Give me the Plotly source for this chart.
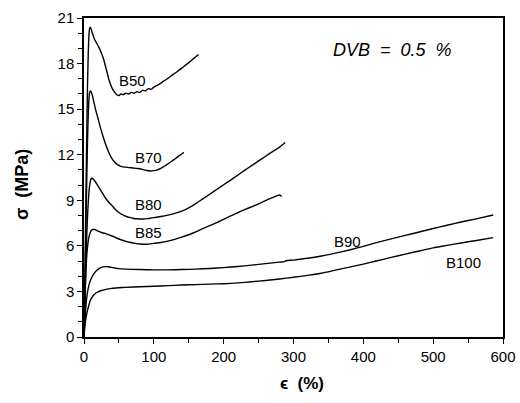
import plotly.graph_objects as go

# Stress-strain curves, strain in %, stress in MPa
b50_x = [0, 1, 2, 3, 4, 5, 6, 7, 8, 9, 10, 12, 15, 18, 21, 24, 28, 32, 36, 40, 44, 47,
         50, 53, 56, 60, 64, 68, 72, 76, 80, 84, 88, 92, 96, 100, 104, 108, 112, 116,
         120, 125, 130, 135, 140, 145, 150, 155, 160, 164]
b50_y = [0, 3, 6.5, 10, 13.5, 16.5, 18.5, 19.8, 20.3, 20.4, 20.3, 20.0, 19.6, 19.35,
         19.1, 18.8, 18.3, 17.6, 16.9, 16.4, 16.1, 15.95, 15.9, 16.0, 15.95, 16.05, 16.0,
         16.1, 16.05, 16.15, 16.1, 16.25, 16.2, 16.35, 16.3, 16.45, 16.55, 16.65, 16.78,
         16.9, 17.03, 17.2, 17.36, 17.53, 17.7, 17.88, 18.06, 18.25, 18.45, 18.6]

b70_x = [0, 1, 2, 3, 4, 5, 6, 7, 8, 9, 10, 12, 14, 17, 20, 24, 28, 32, 36, 40, 44, 48,
         52, 56, 60, 65, 70, 75, 80, 85, 90, 95, 100, 105, 110, 115, 120, 125, 130, 135,
         140, 143]
b70_y = [0, 2.5, 5, 8, 10.5, 12.8, 14.5, 15.6, 16.1, 16.2, 16.15, 15.9, 15.5, 14.9,
         14.4, 13.7, 13.1, 12.55, 12.1, 11.75, 11.5, 11.35, 11.25, 11.2, 11.18, 11.15,
         11.13, 11.1, 11.08, 11.02, 10.96, 10.93, 10.95, 11.0, 11.1, 11.24, 11.39, 11.55,
         11.72, 11.89, 12.05, 12.15]

b80_x = [0, 1, 2, 3, 4, 5, 6, 7, 8, 9, 10, 11, 12, 13, 15, 18, 22, 26, 30, 35, 40, 45,
         50, 55, 60, 65, 70, 75, 80, 85, 90, 95, 100, 110, 120, 130, 140, 150, 160, 170,
         180, 190, 200, 210, 220, 230, 240, 250, 260, 270, 280, 288]
b80_y = [0, 1.8, 3.6, 5.3, 6.7, 7.9, 8.8, 9.5, 9.95, 10.25, 10.4, 10.45, 10.45, 10.4,
         10.3, 10.1, 9.8, 9.5, 9.2, 8.9, 8.65, 8.4, 8.2, 8.05, 7.95, 7.87, 7.82, 7.78,
         7.77, 7.77, 7.79, 7.82, 7.86, 7.93, 8.02, 8.14, 8.29, 8.5, 8.78, 9.09, 9.4,
         9.71, 10.02, 10.33, 10.65, 10.97, 11.28, 11.59, 11.9, 12.2, 12.5, 12.8]

b85_x = [0, 1, 2, 3, 4, 5, 6, 8, 10, 12, 14, 16, 18, 21, 25, 30, 35, 40, 45, 50, 55, 60,
         65, 70, 75, 80, 85, 90, 95, 100, 110, 120, 130, 140, 150, 160, 170, 180, 190,
         200, 210, 220, 230, 240, 250, 260, 270, 280, 283]
b85_y = [0, 1.8, 3.4, 4.6, 5.4, 5.9, 6.3, 6.75, 6.98, 7.07, 7.09, 7.07, 7.02, 6.95,
         6.88, 6.82, 6.74, 6.65, 6.55, 6.45, 6.37, 6.3, 6.24, 6.19, 6.15, 6.12, 6.11,
         6.11, 6.13, 6.16, 6.22, 6.31, 6.43, 6.57, 6.73, 6.92, 7.13, 7.33, 7.53, 7.75,
         7.97, 8.18, 8.38, 8.57, 8.77, 8.98, 9.17, 9.35, 9.25]

b90_x = [0, 1, 2, 3, 4, 5, 7, 9, 12, 15, 18, 22, 26, 30, 35, 40, 50, 60, 80, 100, 120,
         140, 160, 180, 200, 220, 240, 260, 280, 287, 289, 300, 320, 340, 360, 380, 400,
         420, 440, 460, 480, 500, 520, 540, 560, 586]
b90_y = [0, 0.9, 1.6, 2.2, 2.6, 2.95, 3.4, 3.7, 4.0, 4.22, 4.38, 4.52, 4.6, 4.63, 4.62,
         4.58, 4.5, 4.47, 4.44, 4.42, 4.42, 4.44, 4.47, 4.51, 4.57, 4.64, 4.73, 4.83,
         4.93, 4.96, 5.02, 5.06, 5.18, 5.33, 5.52, 5.73, 5.97, 6.23, 6.46, 6.69, 6.91,
         7.14, 7.36, 7.57, 7.76, 8.03]

b100_x = [0, 1, 2, 3, 5, 7, 9, 12, 15, 20, 25, 30, 40, 50, 60, 80, 100, 120, 140, 160,
          180, 200, 220, 240, 260, 280, 300, 320, 340, 360, 380, 400, 420, 440, 460, 480,
          500, 520, 540, 560, 586]
b100_y = [0, 0.6, 1.0, 1.3, 1.75, 2.1, 2.4, 2.65, 2.82, 2.97, 3.06, 3.12, 3.2, 3.24,
          3.27, 3.31, 3.34, 3.38, 3.42, 3.45, 3.48, 3.51, 3.56, 3.64, 3.72, 3.82, 3.93,
          4.06, 4.2, 4.4, 4.6, 4.8, 5.02, 5.24, 5.46, 5.66, 5.87, 6.03, 6.19, 6.34, 6.54]

series = [
    ("B50", b50_x, b50_y),
    ("B70", b70_x, b70_y),
    ("B80", b80_x, b80_y),
    ("B85", b85_x, b85_y),
    ("B90", b90_x, b90_y),
    ("B100", b100_x, b100_y),
]

# label anchors (strain, stress)
label_names = ["B50", "B70", "B80", "B85", "B90", "B100"]
label_x = [70, 92, 92, 93, 377, 543]
label_y = [16.9, 11.8, 8.7, 6.85, 6.3, 4.9]

font_family = "Liberation Sans, Arial, Helvetica, sans-serif"

W, H = 520, 403
ML, MR, MT, MB = 84, 17, 18, 66
plot_w = W - ML - MR
plot_h = H - MT - MB

fig = go.Figure()
for name, xs, ys in series:
    fig.add_trace(go.Scatter(x=xs, y=ys, mode="lines", name=name,
                             line=dict(color="black", width=1.4, shape="spline",
                                       smoothing=0.6),
                             showlegend=False, hoverinfo="skip"))

for name, lx, ly in zip(label_names, label_x, label_y):
    fig.add_annotation(x=lx, y=ly, text=name, showarrow=False,
                       font=dict(size=15, color="black", family=font_family))

fig.add_annotation(x=0.737, y=0.9, xref="paper", yref="paper",
                   xanchor="center", yanchor="middle",
                   text="<i>DVB  =  0.5  %</i>", showarrow=False,
                   font=dict(size=18, color="black", family=font_family))

# axis titles, positioned in pixel terms relative to the plotting area
fig.add_annotation(xref="paper", yref="paper",
                   x=(302 - ML) / plot_w, y=(H - MB - 383) / plot_h,
                   text="<b>ϵ  (%)</b>", showarrow=False,
                   xanchor="center", yanchor="middle",
                   font=dict(size=17, color="black", family=font_family))
fig.add_annotation(xref="paper", yref="paper",
                   x=(22 - ML) / plot_w, y=(H - MB - 185) / plot_h,
                   text="<b>σ  (MPa)</b>", textangle=-90, showarrow=False,
                   xanchor="center", yanchor="middle",
                   font=dict(size=18, color="black", family=font_family))

axis_common = dict(
    showline=True, linecolor="black", linewidth=1.5, mirror=True,
    ticks="outside", ticklen=5, tickwidth=1.2, tickcolor="black",
    showgrid=False, zeroline=False, automargin=False,
    tickfont=dict(size=15, color="black", family=font_family),
)

fig.update_xaxes(range=[0, 600], tickvals=[0, 100, 200, 300, 400, 500, 600],
                 minor=dict(tickvals=[50, 150, 250, 350, 450, 550], ticks="outside",
                            ticklen=4, tickwidth=1.2, tickcolor="black"),
                 **axis_common)
fig.update_yaxes(range=[0, 21], tickvals=[0, 3, 6, 9, 12, 15, 18, 21],
                 minor=dict(dtick=1, ticks="outside", ticklen=4, tickwidth=1.2,
                            tickcolor="black"),
                 **axis_common)

fig.update_layout(
    width=W, height=H,
    margin=dict(l=ML, r=MR, t=MT, b=MB, autoexpand=False),
    paper_bgcolor="white", plot_bgcolor="white",
)

fig.write_html("out.html")
